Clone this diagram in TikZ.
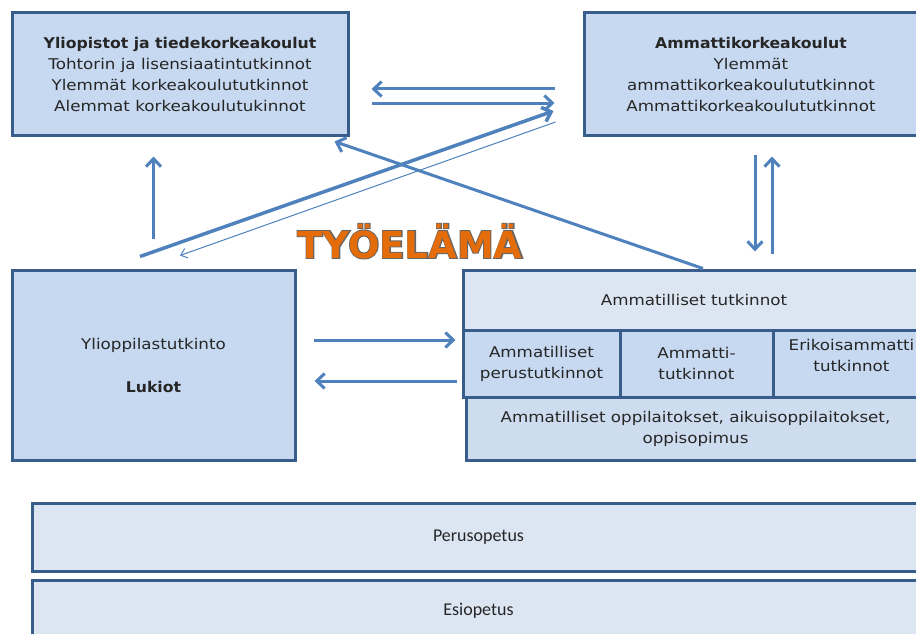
\documentclass[tikz,border=0pt]{standalone}
\usepackage{fontspec}
\setmainfont{DejaVu Sans}[FakeStretch=1.13, BoldFeatures={FakeStretch=1.06}]
\newfontfamily\calibrifont{Carlito}
\newfontfamily\tyofont{DejaVu Sans}
\newfontfamily\tyoedgefont{DejaVu Sans}[BoldFeatures={FakeBold=5}]
\usetikzlibrary{arrows.meta}
\definecolor{boxblue}{HTML}{C6D9F1}
\definecolor{paleblue}{HTML}{DCE6F2}
\definecolor{midblue}{HTML}{CEDCF0}
\definecolor{edgeblue}{HTML}{385D8A}
\definecolor{arrowblue}{HTML}{4F81BD}
\definecolor{tyoorange}{HTML}{E46C0A}
\begin{document}
\begin{tikzpicture}[x=1pt,y=-1pt,
  box/.style={draw=edgeblue, line width=3pt, fill=boxblue, inner sep=0pt, align=center, text=black!85, font=\fontsize{14.8}{21}\selectfont},
  palebox/.style={box, fill=paleblue},
  conn/.style={draw=arrowblue, line width=3pt, -{Straight Barb[length=8pt,width=15pt]}},
  thinconn/.style={draw=arrowblue, line width=1pt, -{Straight Barb[length=6pt,width=10pt]}}]
\useasboundingbox (0,0) rectangle (916,634);
\clip (0,0) rectangle (916,634);
% korkeakoulut
\node[box, minimum width=336pt, minimum height=122pt] (yo) at (180,74) {\textbf{Yliopistot ja tiedekorkeakoulut}\\Tohtorin ja lisensiaatintutkinnot\\Ylemmät korkeakoulututkinnot\\Alemmat korkeakoulutukinnot};
\node[box, minimum width=334pt, minimum height=122pt] (amk) at (751,74) {\textbf{Ammattikorkeakoulut}\\Ylemmät\\ammattikorkeakoulututkinnot\\Ammattikorkeakoulututkinnot};
% toinen aste
\node[box, minimum width=283pt, minimum height=190pt] (lukio) at (153.5,365) {Ylioppilastutkinto\\[22pt]\textbf{Lukiot}};
\node[palebox, minimum width=462pt, minimum height=60pt] (amtut) at (694,300) {Ammatilliset tutkinnot};
\node[box, minimum width=157pt, minimum height=67pt] (amper) at (541.5,363.5) {Ammatilliset\\perustutkinnot};
\node[box, minimum width=153pt, minimum height=67pt] (amatti) at (696.5,363.5) {Ammatti-\\tutkinnot};
\node[box, minimum width=157pt, minimum height=67pt] (erik) at (851.5,363.5) {Erikoisammatti\\tutkinnot\\[-4pt]\mbox{}};
\node[box, fill=midblue, minimum width=459pt, minimum height=63pt] (amopp) at (695.5,428.5) {Ammatilliset oppilaitokset, aikuisoppilaitokset,\\oppisopimus};
% perusaste
\node[palebox, minimum width=893pt, minimum height=68pt, font=\calibrifont\fontsize{18}{20}\selectfont] (perus) at (478.5,537) {Perusopetus};
\node[palebox, minimum width=893pt, minimum height=62pt, font=\calibrifont\fontsize{18}{20}\selectfont] (esi) at (478.5,611) {Esiopetus};
\node[anchor=base, text=tyoorange, font=\tyofont\bfseries\fontsize{37}{40}\selectfont] (tyo) at (410,258) {\rlap{\color{black!60}\tyoedgefont\bfseries TYÖELÄMÄ}TYÖELÄMÄ};
% nuolet
\draw[conn] ([shift={(-28,15)}]amk.west) -- ([shift={(22,15)}]yo.east);
\draw[conn] ([shift={(22,29)}]yo.east) -- ([shift={(-28,29)}]amk.west);
\draw[conn, line width=3.5pt] ([shift={(-13.5,-12)}]lukio.north) -- ([shift={(-29,37)}]amk.west);
\draw[thinconn] ([shift={(-27,48)}]amk.west) -- ([shift={(26.5,-13)}]lukio.north);
\draw[conn] ([shift={(9,0)}]amtut.north) -- ([shift={(-15,5)}]yo.south east);
\draw[conn] ([shift={(0,-30)}]lukio.north) -- ([shift={(-26.5,20)}]yo.south);
\draw[conn] ([shift={(4,18)}]amk.south) -- ([shift={(61,-17)}]amtut.north);
\draw[conn] ([shift={(78,-15)}]amtut.north) -- ([shift={(21,20)}]amk.south);
\draw[conn] ([shift={(17,-25)}]lukio.east) -- ([shift={(-6,-23.5)}]amper.west);
\draw[conn] ([shift={(-5,17.5)}]amper.west) -- ([shift={(18,16)}]lukio.east);
\end{tikzpicture}
\end{document}
